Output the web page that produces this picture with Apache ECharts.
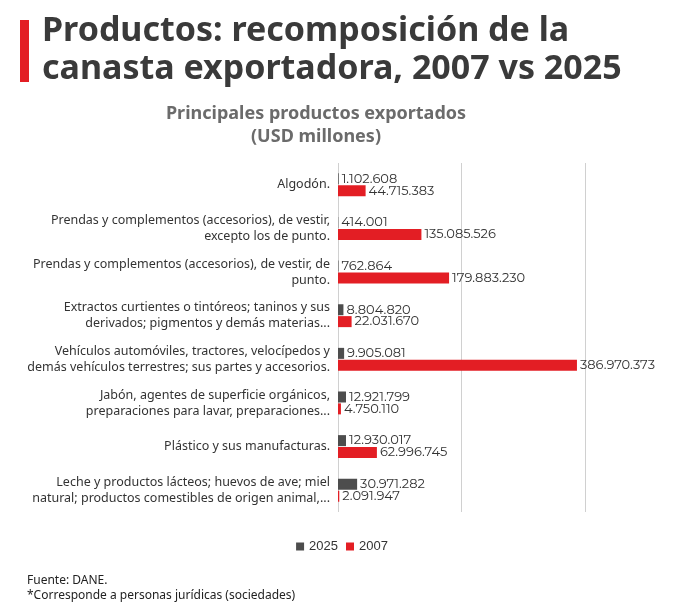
<!DOCTYPE html>
<html><head><meta charset="utf-8">
<script src="https://cdn.jsdelivr.net/npm/echarts@6/dist/echarts.min.js"></script>
<style>body{margin:0;background:#fff}#c{width:684px;height:602px}</style>
</head><body><div id="c"></div>
<script>
const categories = [
  'Algodón.',
  'Prendas y complementos (accesorios), de vestir,\nexcepto los de punto.',
  'Prendas y complementos (accesorios), de vestir, de\npunto.',
  'Extractos curtientes o tintóreos; taninos y sus\nderivados; pigmentos y demás materias...',
  'Vehículos automóviles, tractores, velocípedos y\ndemás vehículos terrestres; sus partes y accesorios.',
  'Jabón, agentes de superficie orgánicos,\npreparaciones para lavar, preparaciones...',
  'Plástico y sus manufacturas.',
  'Leche y productos lácteos; huevos de ave; miel\nnatural; productos comestibles de origen animal,...'
];
const values2025 = [1102608, 414001, 762864, 8804820, 9905081, 12921799, 12930017, 30971282];
const values2007 = [44715383, 135085526, 179883230, 22031670, 386970373, 4750110, 62996745, 2091947];

const fmt = v => v.toString().replace(/\B(?=(\d{3})+(?!\d))/g, '.');
const chart = echarts.init(document.getElementById('c'));
const lbl = { show: true, position: 'right', distance: 3, color: '#333', fontSize: 13,
  fontFamily: 'Montserrat, Noto Sans, sans-serif', formatter: p => fmt(p.value) };
chart.setOption({
  animation: false,
  graphic: [
    { type: 'rect', shape: { x: 20, y: 20, width: 9, height: 62 }, style: { fill: '#e31e24' } },
    { type: 'text', x: 42, y: 12, style: { text: 'Productos: recomposición de la\ncanasta exportadora, 2007 vs 2025',
      font: 'bold 34px "Noto Sans", sans-serif', fill: '#3a3a3a', lineHeight: 38 } },
    { type: 'text', x: 316, y: 102, style: { text: 'Principales productos exportados\n(USD millones)',
      font: 'bold 18px "Noto Sans", sans-serif', fill: '#6b6b6b', align: 'center', lineHeight: 23 } },
    { type: 'text', x: 27, y: 573, style: { text: 'Fuente: DANE.\n*Corresponde a personas jurídicas (sociedades)',
      font: '12px "Noto Sans", sans-serif', fill: '#222', lineHeight: 15 } }
  ],
  legend: { data: ['2025', '2007'], top: 535, left: 'center', icon: 'rect', itemWidth: 8, itemHeight: 8,
    textStyle: { fontSize: 13, color: '#333' } },
  grid: { left: 338, right: 99, top: 163, bottom: 90 },
  xAxis: { type: 'value', min: 0, max: 400000000, interval: 200000000,
    axisLabel: { show: false }, axisLine: { show: false }, axisTick: { show: false },
    splitLine: { lineStyle: { color: '#d0d0d0' } } },
  yAxis: { type: 'category', inverse: true, data: categories,
    axisLine: { show: false }, axisTick: { show: false },
    axisLabel: { color: '#333', fontSize: 12.5, fontFamily: '"Noto Sans", sans-serif', lineHeight: 16, margin: 8, align: 'right' } },
  series: [
    { name: '2025', type: 'bar', data: values2025, barWidth: 11, barGap: '8%', itemStyle: { color: '#4d4d4d' }, label: lbl },
    { name: '2007', type: 'bar', data: values2007, barWidth: 11, itemStyle: { color: '#e31e24' }, label: lbl }
  ]
});
</script></body></html>
